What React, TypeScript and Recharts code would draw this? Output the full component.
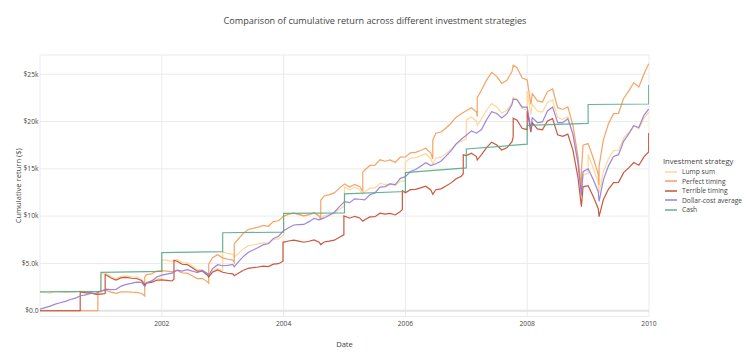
import { LineChart, Line, XAxis, YAxis, CartesianGrid, ReferenceLine } from 'recharts';

// [decimal year, value in $k]
type Pt = [number, number];

const FONT = '"Open Sans", verdana, arial, sans-serif';
const TEXT = '#444';

const xTicks = [2002, 2004, 2006, 2008, 2010];
const yTicks = [0, 5, 10, 15, 20, 25];
const yTickLabels = ['$0.0', '$5.0k', '$10k', '$15k', '$20k', '$25k'];

const seriesNames = ['Lump sum', 'Perfect timing', 'Terrible timing', 'Dollar-cost average', 'Cash'];
const seriesColors = ['#fdd48c', '#f39a53', '#c4452a', '#9478dc', '#5aa88a'];

const lumpSum: Pt[] = [
    [2000.0, 2.0], [2000.083, 1.901], [2000.167, 1.865], [2000.25, 2.05], [2000.333, 1.989], [2000.417, 1.95],
    [2000.5, 2.0], [2000.583, 1.97], [2000.667, 2.093], [2000.75, 1.985], [2000.833, 1.977], [2000.917, 1.822],
    [2001.0, 1.831], [2001.0, 3.831], [2001.083, 3.971], [2001.167, 3.612], [2001.25, 3.384], [2001.333, 3.649],
    [2001.417, 3.675], [2001.5, 3.586], [2001.583, 3.555], [2001.667, 3.333], [2001.72, 2.846], [2001.75, 3.065],
    [2001.833, 3.125], [2001.917, 3.364],
    [2002.0, 3.395], [2002.0, 5.395], [2002.083, 5.319], [2002.167, 5.219], [2002.25, 5.418], [2002.333, 5.088],
    [2002.417, 5.056], [2002.5, 4.698], [2002.583, 4.332], [2002.667, 4.359], [2002.75, 3.884], [2002.77, 3.703],
    [2002.833, 4.228], [2002.917, 4.472],
    [2003.0, 4.214], [2003.0, 6.214], [2003.083, 6.054], [2003.167, 5.954], [2003.19, 5.667], [2003.25, 6.014],
    [2003.333, 6.508], [2003.417, 6.855], [2003.5, 6.948], [2003.583, 7.062], [2003.667, 7.202], [2003.75, 7.128],
    [2003.833, 7.529], [2003.917, 7.596],
    [2004.0, 7.989], [2004.0, 9.989], [2004.083, 10.181], [2004.167, 10.315], [2004.25, 10.165], [2004.333, 10.006],
    [2004.417, 10.148], [2004.5, 10.348], [2004.583, 10.006], [2004.61, 9.664], [2004.667, 10.04], [2004.75, 10.156],
    [2004.833, 10.307], [2004.917, 10.724],
    [2005.0, 11.083], [2005.0, 13.083], [2005.083, 12.767], [2005.167, 13.033], [2005.25, 12.807], [2005.3, 12.354],
    [2005.333, 12.551], [2005.417, 12.955], [2005.5, 12.974], [2005.583, 13.457], [2005.667, 13.329], [2005.75, 13.447],
    [2005.833, 13.221], [2005.917, 13.703],
    [2006.0, 13.713], [2006.0, 15.713], [2006.083, 16.131], [2006.167, 16.176], [2006.25, 16.368], [2006.333, 16.594],
    [2006.417, 16.097], [2006.45, 15.51], [2006.5, 16.12], [2006.583, 16.232], [2006.667, 16.605], [2006.75, 17.034],
    [2006.833, 17.587], [2006.917, 17.903],
    [2007.0, 18.163], [2007.0, 20.163], [2007.083, 20.476], [2007.167, 20.037], [2007.18, 19.586], [2007.25, 20.275],
    [2007.333, 21.19], [2007.417, 21.905], [2007.5, 21.541], [2007.583, 20.89], [2007.667, 21.178], [2007.75, 21.98],
    [2007.77, 22.556], [2007.833, 22.331], [2007.917, 21.378],
    [2008.0, 21.215], [2008.0, 23.215], [2008.06, 20.733], [2008.083, 21.83], [2008.167, 21.104], [2008.25, 20.994],
    [2008.333, 22.036], [2008.417, 22.297], [2008.5, 20.418], [2008.583, 20.24], [2008.667, 20.5], [2008.75, 18.676],
    [2008.833, 15.523], [2008.89, 12.081], [2008.917, 14.384],
    [2009.0, 14.522], [2009.0, 16.522], [2009.083, 15.117], [2009.167, 13.479], [2009.18, 12.419], [2009.25, 14.649],
    [2009.333, 16.038], [2009.417, 16.927], [2009.5, 16.958], [2009.583, 18.238], [2009.667, 18.862], [2009.75, 19.579],
    [2009.833, 19.221], [2009.917, 20.328], [2009.995, 20.968],
];

const perfectTiming: Pt[] = [
    [2000.0, 0], [2000.95, 0], [2000.95, 2.0], [2001.0, 2.09], [2001.083, 2.166], [2001.167, 1.97], [2001.25, 1.846],
    [2001.333, 1.991], [2001.417, 2.005], [2001.5, 1.957], [2001.583, 1.939], [2001.667, 1.818], [2001.72, 1.552],
    [2001.72, 3.552], [2001.75, 3.826], [2001.833, 3.901], [2001.917, 4.2],
    [2002.0, 4.239], [2002.083, 4.178], [2002.167, 4.1], [2002.25, 4.257], [2002.333, 3.997], [2002.417, 3.972],
    [2002.5, 3.691], [2002.583, 3.403], [2002.667, 3.424], [2002.75, 3.051], [2002.77, 2.909], [2002.77, 4.909],
    [2002.833, 5.605], [2002.917, 5.929],
    [2003.0, 5.587], [2003.083, 5.443], [2003.167, 5.353], [2003.19, 5.095], [2003.19, 7.095], [2003.25, 7.529],
    [2003.333, 8.148], [2003.417, 8.582], [2003.5, 8.699], [2003.583, 8.841], [2003.667, 9.017], [2003.75, 8.925],
    [2003.833, 9.426], [2003.917, 9.51],
    [2004.0, 10.003], [2004.083, 10.195], [2004.167, 10.329], [2004.25, 10.178], [2004.333, 10.02], [2004.417, 10.162],
    [2004.5, 10.362], [2004.583, 10.02], [2004.61, 9.677], [2004.61, 11.677], [2004.667, 12.131], [2004.75, 12.272],
    [2004.833, 12.453], [2004.917, 12.958],
    [2005.0, 13.391], [2005.083, 13.069], [2005.167, 13.341], [2005.25, 13.109], [2005.3, 12.645], [2005.3, 14.645],
    [2005.333, 14.879], [2005.417, 15.357], [2005.5, 15.381], [2005.583, 15.953], [2005.667, 15.801], [2005.75, 15.941],
    [2005.833, 15.673], [2005.917, 16.245],
    [2006.0, 16.257], [2006.083, 16.689], [2006.167, 16.736], [2006.25, 16.934], [2006.333, 17.168], [2006.417, 16.654],
    [2006.45, 16.047], [2006.45, 18.047], [2006.5, 18.756], [2006.583, 18.887], [2006.667, 19.321], [2006.75, 19.82],
    [2006.833, 20.463], [2006.917, 20.831],
    [2007.0, 21.133], [2007.083, 21.461], [2007.167, 21.002], [2007.18, 20.529], [2007.18, 22.529], [2007.25, 23.322],
    [2007.333, 24.374], [2007.417, 25.196], [2007.5, 24.778], [2007.583, 24.028], [2007.667, 24.359], [2007.75, 25.282],
    [2007.77, 25.945], [2007.833, 25.686], [2007.917, 24.59],
    [2008.0, 24.403], [2008.06, 21.794], [2008.083, 22.947], [2008.167, 22.183], [2008.25, 22.068], [2008.333, 23.163],
    [2008.417, 23.437], [2008.5, 21.462], [2008.583, 21.275], [2008.667, 21.549], [2008.75, 19.632], [2008.833, 16.316],
    [2008.89, 12.699], [2008.89, 14.699], [2008.917, 17.502],
    [2009.0, 17.668], [2009.083, 16.167], [2009.167, 14.415], [2009.18, 13.28], [2009.18, 15.28], [2009.25, 18.026],
    [2009.333, 19.734], [2009.417, 20.828], [2009.5, 20.867], [2009.583, 22.441], [2009.667, 23.209], [2009.75, 24.092],
    [2009.833, 23.65], [2009.917, 25.013], [2009.995, 26.1],
];

const terribleTiming: Pt[] = [
    [2000.0, 0], [2000.66, 0], [2000.66, 2.0], [2000.667, 1.996], [2000.75, 1.894], [2000.833, 1.886], [2000.917, 1.738],
    [2001.0, 1.747], [2001.07, 1.818], [2001.07, 3.818], [2001.083, 3.802], [2001.167, 3.458], [2001.25, 3.24],
    [2001.333, 3.494], [2001.417, 3.518], [2001.5, 3.434], [2001.583, 3.406], [2001.667, 3.191], [2001.72, 2.725],
    [2001.75, 2.935], [2001.833, 2.992], [2001.917, 3.221],
    [2002.0, 3.251], [2002.083, 3.205], [2002.167, 3.145], [2002.2, 3.325], [2002.2, 5.325], [2002.25, 5.228],
    [2002.333, 4.91], [2002.417, 4.879], [2002.5, 4.534], [2002.583, 4.18], [2002.667, 4.206], [2002.75, 3.748],
    [2002.77, 3.573], [2002.833, 4.08], [2002.917, 4.316],
    [2003.0, 4.067], [2003.083, 3.962], [2003.167, 3.896], [2003.19, 3.708], [2003.25, 3.936], [2003.333, 4.259],
    [2003.417, 4.486], [2003.5, 4.547], [2003.583, 4.621], [2003.667, 4.713], [2003.75, 4.665], [2003.833, 4.927],
    [2003.917, 4.971], [2003.99, 5.228], [2003.99, 7.228],
    [2004.083, 7.367], [2004.167, 7.464], [2004.25, 7.355], [2004.333, 7.241], [2004.417, 7.343], [2004.5, 7.488],
    [2004.583, 7.241], [2004.61, 6.993], [2004.667, 7.265], [2004.75, 7.349], [2004.833, 7.458], [2004.917, 7.76],
    [2004.99, 8.026], [2004.99, 10.026],
    [2005.083, 9.777], [2005.167, 9.98], [2005.25, 9.807], [2005.3, 9.46], [2005.333, 9.611], [2005.417, 9.92],
    [2005.5, 9.935], [2005.583, 10.305], [2005.667, 10.207], [2005.75, 10.297], [2005.833, 10.124], [2005.917, 10.493],
    [2005.95, 10.689], [2005.95, 12.689],
    [2006.0, 12.465], [2006.083, 12.797], [2006.167, 12.833], [2006.25, 12.985], [2006.333, 13.164], [2006.417, 12.77],
    [2006.45, 12.304], [2006.5, 12.788], [2006.583, 12.877], [2006.667, 13.173], [2006.75, 13.513], [2006.833, 13.952],
    [2006.917, 14.203], [2006.95, 14.48], [2006.95, 16.48],
    [2007.0, 16.399], [2007.083, 16.654], [2007.167, 16.297], [2007.18, 15.93], [2007.25, 16.491], [2007.333, 17.235],
    [2007.417, 17.816], [2007.5, 17.52], [2007.583, 16.99], [2007.667, 17.224], [2007.75, 17.877], [2007.77, 18.346],
    [2007.77, 20.346], [2007.833, 20.142], [2007.917, 19.283],
    [2008.0, 19.136], [2008.0, 21.136], [2008.06, 18.876], [2008.083, 19.875], [2008.167, 19.214], [2008.25, 19.114],
    [2008.333, 20.062], [2008.417, 20.3], [2008.5, 18.589], [2008.583, 18.427], [2008.667, 18.664], [2008.75, 17.004],
    [2008.833, 14.132], [2008.89, 10.999], [2008.917, 13.096],
    [2009.0, 13.221], [2009.083, 12.097], [2009.167, 10.787], [2009.18, 9.937], [2009.25, 11.723], [2009.333, 12.834],
    [2009.417, 13.546], [2009.5, 13.571], [2009.583, 14.594], [2009.667, 15.094], [2009.75, 15.668], [2009.833, 15.381],
    [2009.917, 16.267], [2009.995, 16.779], [2009.995, 18.779],
];

const dollarCostAverage: Pt[] = [
    [2000.0, 0.167], [2000.083, 0.325], [2000.167, 0.486], [2000.25, 0.701], [2000.333, 0.846], [2000.417, 0.996],
    [2000.5, 1.189], [2000.583, 1.337], [2000.667, 1.587], [2000.75, 1.672], [2000.833, 1.832], [2000.917, 1.855],
    [2001.0, 2.031], [2001.083, 2.272], [2001.167, 2.233], [2001.25, 2.259], [2001.333, 2.603], [2001.417, 2.788],
    [2001.5, 2.887], [2001.583, 3.029], [2001.667, 3.006], [2001.72, 2.567], [2001.75, 2.931], [2001.833, 3.155],
    [2001.917, 3.563],
    [2002.0, 3.763], [2002.083, 3.876], [2002.167, 3.97], [2002.25, 4.289], [2002.333, 4.194], [2002.417, 4.334],
    [2002.5, 4.194], [2002.583, 4.034], [2002.667, 4.226], [2002.75, 3.932], [2002.77, 3.748], [2002.833, 4.447],
    [2002.917, 4.87],
    [2003.0, 4.756], [2003.083, 4.8], [2003.167, 4.887], [2003.19, 4.652], [2003.25, 5.103], [2003.333, 5.689],
    [2003.417, 6.159], [2003.5, 6.41], [2003.583, 6.681], [2003.667, 6.98], [2003.75, 7.076], [2003.833, 7.64],
    [2003.917, 7.875],
    [2004.0, 8.449], [2004.083, 8.778], [2004.167, 9.06], [2004.25, 9.095], [2004.333, 9.12], [2004.417, 9.416],
    [2004.5, 9.768], [2004.583, 9.612], [2004.667, 9.811], [2004.75, 10.092], [2004.833, 10.407], [2004.917, 10.996],
    [2005.0, 11.53], [2005.083, 11.419], [2005.167, 11.824], [2005.25, 11.785], [2005.333, 11.716], [2005.417, 12.259],
    [2005.5, 12.445], [2005.583, 13.074], [2005.667, 13.116], [2005.75, 13.4], [2005.833, 13.34], [2005.917, 13.994],
    [2006.0, 14.171], [2006.083, 14.714], [2006.167, 14.922], [2006.25, 15.266], [2006.333, 15.643], [2006.417, 15.341],
    [2006.5, 15.53], [2006.583, 15.805], [2006.667, 16.334], [2006.75, 16.923], [2006.833, 17.639], [2006.917, 18.123],
    [2007.0, 18.552], [2007.083, 19.007], [2007.167, 18.767], [2007.25, 19.157], [2007.333, 20.187], [2007.417, 21.035],
    [2007.5, 20.852], [2007.583, 20.388], [2007.667, 20.836], [2007.75, 21.792], [2007.77, 22.363], [2007.833, 22.307],
    [2007.917, 21.522],
    [2008.0, 21.525], [2008.06, 19.223], [2008.083, 20.407], [2008.167, 19.894], [2008.25, 19.958], [2008.333, 21.115],
    [2008.417, 21.531], [2008.5, 19.884], [2008.583, 19.877], [2008.667, 20.299], [2008.75, 18.66], [2008.833, 15.676],
    [2008.89, 12.2], [2008.917, 14.693],
    [2009.0, 15.0], [2009.083, 13.892], [2009.167, 12.553], [2009.18, 11.565], [2009.25, 13.809], [2009.333, 15.285],
    [2009.417, 16.299], [2009.5, 16.496], [2009.583, 17.907], [2009.667, 18.686], [2009.75, 19.564], [2009.833, 19.372],
    [2009.917, 20.655], [2009.995, 21.305],
];

const cash: Pt[] = [
    [2000.0, 2.0], [2001.0, 2.05], [2001.0, 4.05], [2002.0, 4.15], [2002.0, 6.15], [2003.0, 6.24], [2003.0, 8.24],
    [2004.0, 8.3], [2004.0, 10.3], [2005.0, 10.35], [2005.0, 12.35], [2006.0, 12.6], [2006.0, 14.6], [2007.0, 15.1],
    [2007.0, 17.1], [2008.0, 17.6], [2008.0, 19.6], [2009.0, 19.8], [2009.0, 21.8], [2009.995, 21.85], [2009.995, 23.85],
];

const seriesData = [lumpSum, perfectTiming, terribleTiming, dollarCostAverage, cash].map((pts) =>
    pts.map(([t, v]) => ({ t, v })),
);

const tickStyle = { fontSize: 6.7, fill: TEXT, fontFamily: FONT };

export default function App() {
    return (
        <div style={{ position: 'absolute', left: 0, top: 0, width: 750, height: 361, background: '#fff', fontFamily: FONT }}>
            <div
                style={{
                    position: 'absolute', left: 0, top: 15, width: 750, textAlign: 'center',
                    fontSize: 9.1, lineHeight: '12px', color: TEXT,
                }}
            >
                Comparison of cumulative return across different investment strategies
            </div>

            <LineChart width={750} height={361} margin={{ top: 55, right: 101, bottom: 0, left: 0 }}>
                <CartesianGrid stroke="#ebebeb" strokeWidth={1} />
                <XAxis
                    dataKey="t"
                    type="number"
                    domain={[2000, 2010]}
                    allowDataOverflow
                    ticks={xTicks}
                    height={44.5}
                    tickSize={0}
                    tickMargin={5}
                    axisLine={false}
                    tick={tickStyle}
                    label={{ value: 'Date', position: 'insideBottom', offset: 14, fontSize: 7.6, fill: TEXT, fontFamily: FONT }}
                />
                <YAxis
                    type="number"
                    domain={[-0.61, 27.03]}
                    allowDataOverflow
                    ticks={yTicks}
                    width={40}
                    tickSize={0}
                    tickMargin={1.5}
                    axisLine={false}
                    tick={tickStyle}
                    tickFormatter={(v: number) => yTickLabels[yTicks.indexOf(v)] ?? ''}
                    label={{ value: 'Cumulative return ($)', angle: -90, position: 'center', dx: -2, fontSize: 7.6, fill: TEXT, fontFamily: FONT }}
                />
                <ReferenceLine y={0} stroke="#e4e4e4" strokeWidth={2} />
                {seriesData.map((rows, i) => (
                    <Line
                        key={seriesNames[i]}
                        data={rows}
                        dataKey="v"
                        name={seriesNames[i]}
                        type="linear"
                        stroke={seriesColors[i]}
                        strokeWidth={1.2}
                        strokeOpacity={0.9}
                        dot={false}
                        activeDot={false}
                        isAnimationActive={false}
                    />
                ))}
            </LineChart>

            {/* legend */}
            <div style={{ position: 'absolute', left: 663, top: 155, color: TEXT }}>
                <div style={{ fontSize: 7.6, lineHeight: '12px' }}>Investment strategy</div>
                {seriesNames.map((name, i) => (
                    <div key={name} style={{ display: 'flex', alignItems: 'center', height: 9.5, fontSize: 6.7 }}>
                        <svg width={18} height={4} style={{ marginLeft: 1 }}>
                            <line x1={1} y1={2} x2={13} y2={2} stroke={seriesColors[i]} strokeWidth={2} strokeOpacity={0.7} />
                        </svg>
                        <span>{name}</span>
                    </div>
                ))}
            </div>
        </div>
    );
}
